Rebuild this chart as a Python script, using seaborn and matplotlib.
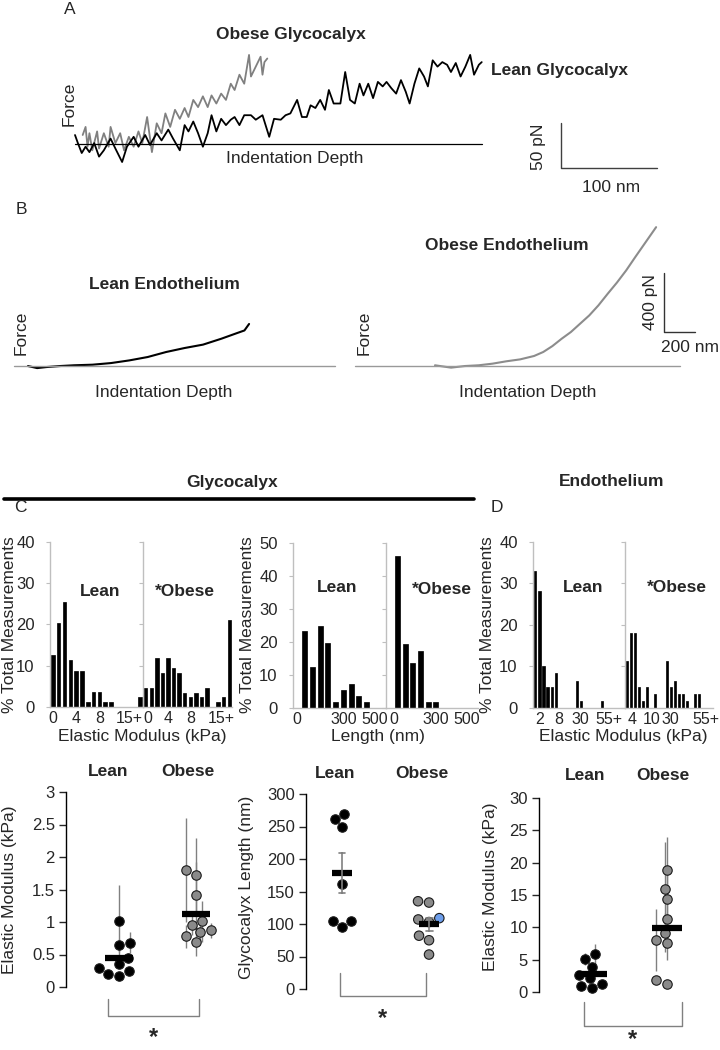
import numpy as np
import matplotlib
matplotlib.use('Agg')
import matplotlib.pyplot as plt
from matplotlib.lines import Line2D
import seaborn as sns

sns.set_style('white')
plt.rcParams['font.family'] = ['Liberation Sans', 'DejaVu Sans']
plt.rcParams['font.size'] = 12

# A: glycocalyx force curves (indentation nm, force pN)
glyco_lean_nm = [0, 3, 7, 11, 15, 20, 25, 30, 37, 42, 49, 54, 61, 66, 73, 78, 85, 90, 97, 102,
                 109, 114, 118, 123, 128, 133, 138, 142, 147, 152, 157, 162, 166, 171, 176, 183, 188, 195, 202, 207,
                 214, 219, 224, 231, 236, 241, 245, 250, 255, 260, 264, 269, 276, 281, 286, 291, 296, 300, 305, 310,
                 315, 320, 324, 329, 334, 339, 344, 348, 353, 358, 363, 367, 372, 377, 382, 387, 391, 396, 401, 406,
                 411, 415, 420, 423]
glyco_lean_pn = [10, 1, -10, -3, -9, 1, -14, -7, 6, -5, -20, -3, 8, -3, 10, -1, 12, 4, 16, 6,
                 -7, 21, 14, 25, 12, -3, 12, 32, 14, 28, 21, 27, 30, 21, 32, 32, 27, 32, 8, 28,
                 27, 32, 34, 49, 30, 30, 43, 40, 49, 38, 60, 45, 45, 80, 49, 45, 67, 54, 67, 51,
                 69, 64, 69, 62, 56, 71, 58, 45, 67, 84, 75, 64, 93, 86, 91, 88, 80, 90, 75, 86,
                 99, 77, 88, 91]
glyco_obese_nm = [8, 11, 13, 15, 18, 23, 25, 30, 35, 37, 42, 47, 51, 56, 61, 66, 70, 75, 80, 85,
                  90, 94, 99, 104, 109, 114, 118, 123, 128, 133, 138, 142, 147, 152, 157, 162, 166, 171, 176, 181,
                  183, 188, 193, 195, 197, 200]
glyco_obese_pn = [10, 19, -3, 12, -7, 14, -5, 12, -3, 19, 1, 12, -7, 8, -3, 14, 1, 30, -9, 23,
                  12, 34, 19, 38, 28, 40, 30, 49, 41, 53, 41, 54, 45, 56, 49, 67, 60, 77, 67, 99,
                  75, 86, 97, 77, 91, 95]

# B: endothelium force curves
endo_lean_nm = [0, 59, 119, 208, 297, 416, 535, 653, 772, 891, 1010, 1129, 1247, 1337, 1396, 1426]
endo_lean_pn = [0, -14, -7, 0, 5, 9, 20, 38, 61, 95, 122, 145, 185, 219, 241, 285]
endo_obese_nm = [0, 104, 193, 282, 371, 460, 549, 639, 698, 757, 817, 876, 936, 995, 1054, 1114,
                 1173, 1233, 1292, 1351, 1426]
endo_obese_pn = [5, -11, 0, 5, 16, 32, 45, 68, 95, 135, 185, 230, 287, 343, 411, 490,
                 565, 648, 739, 828, 941]

# C/D histograms (% total measurements per bin)
c_mod_lean = [12.7, 20.3, 25.4, 11.3, 8.8, 8.8, 1.2, 3.7, 3.7, 1.2, 1.2, 0, 0, 0, 0, 2.5]
c_mod_obese = [4.7, 4.7, 11.9, 8.2, 11.9, 9.4, 8.2, 3.5, 2.3, 3.5, 2.3, 4.7, 0, 1.2, 2.3, 21.1]
c_mod_ticks = ['0', '4', '8', '15+']
c_len_lean = [0, 23.2, 12.5, 25.0, 19.6, 1.8, 5.4, 7.2, 3.5, 1.8, 0, 0]
c_len_obese = [0, 46.2, 19.3, 13.5, 17.3, 1.8, 1.8, 0, 0, 0, 0, 0]
c_len_ticks = ['0', '300', '500']
d_mod_lean = [33, 28.2, 10, 5, 5, 8.4, 0, 0, 0, 0, 6.6, 1.6, 0, 0, 0, 0, 1.6, 0, 0, 0, 0, 0]
d_mod_obese = [11.4, 18, 18, 5, 1.6, 5, 0, 3.3, 0, 0, 11.4, 5, 6.6, 3.3, 3.3, 1.6, 0, 3.3, 3.3, 0, 0, 0]
d_lean_ticks = ['2', '8', '30', '55+']
d_obese_ticks = ['4', '10', '30', '55+']

# C/D per-animal values
groups = ['Lean', 'Obese']
c_mod_lean_pts = [1.02, 0.68, 0.64, 0.45, 0.35, 0.30, 0.25, 0.20, 0.17]
c_mod_lean_err = [0.55, 0.16, 0.10, 0.08, 0.06, 0.05, 0.05, 0.04, 0.03]
c_mod_obese_pts = [1.80, 1.73, 1.41, 1.01, 0.95, 0.87, 0.85, 0.78, 0.70]
c_mod_obese_err = [0.80, 0.57, 0.52, 0.32, 0.15, 0.12, 0.15, 0.18, 0.22]
c_len_lean_pts = [270, 262, 250, 161, 105, 105, 95]
c_len_obese_pts = [135, 133, 103, 107, 109, 75, 82, 53]
d_mod_lean_pts = [5.8, 5.1, 3.8, 2.6, 2.2, 1.2, 1.0, 0.6]
d_mod_lean_err = [1.7, 1.0, 0.8, 0.6, 0.5, 0.4, 0.3, 0.3]
d_mod_obese_pts = [18.8, 16.0, 14.4, 11.3, 9.2, 8.1, 7.6, 1.8, 1.3]
d_mod_obese_err = [5.1, 7.2, 4.1, 2.9, 3.0, 4.8, 2.6, 0.4, 0.4]

W, H = 720, 1050
fig = plt.figure(figsize=(W / 100, H / 100), dpi=100)
GREY = '#808080'


def px_axes(x0, y0, x1, y1):
    return fig.add_axes([x0 / W, 1 - y1 / H, (x1 - x0) / W, (y1 - y0) / H])


def ftext(x, y, s, **kw):
    kw.setdefault('ha', 'center')
    kw.setdefault('va', 'center')
    fig.text(x / W, 1 - y / H, s, **kw)


def fline(xs, ys, **kw):
    fig.add_artist(Line2D([x / W for x in xs], [1 - y / H for y in ys],
                          transform=fig.transFigure, **kw))


# ---------- A ----------
ax = px_axes(60, 0, 700, 200)
sns.lineplot(x=glyco_obese_nm, y=glyco_obese_pn, color=GREY, lw=1.3, estimator=None, sort=False, ax=ax)
sns.lineplot(x=glyco_lean_nm, y=glyco_lean_pn, color='black', lw=1.3, estimator=None, sort=False, ax=ax)
ax.plot([0, max(glyco_lean_nm)], [0, 0], color='black', lw=0.9)
ax.plot([505, 505, 505 + 100], [-26.7 + 50, -26.7, -26.7], color='#404040', lw=1)
ax.set_xlim(-15.6, 650)
ax.set_ylim(-62.2, 160)
ax.axis('off')

ftext(70, 10, 'A', fontsize=12.5)
ftext(291, 35, 'Obese Glycocalyx', fontweight='bold', fontsize=12.5)
ftext(491, 70, 'Lean Glycocalyx', fontweight='bold', fontsize=12.5, ha='left')
ftext(69, 104, 'Force', rotation=90, fontsize=12.5)
ftext(295, 159, 'Indentation Depth', fontsize=12.5)
ftext(538, 147, '50 pN', rotation=90, fontsize=12.5)
ftext(611, 188, '100 nm', fontsize=12.5)

# ---------- B ----------
axl = px_axes(0, 200, 345, 410)
sns.lineplot(x=endo_lean_nm, y=endo_lean_pn, color='black', lw=1.5, estimator=None, sort=False, ax=axl)
axl.plot([-90, 1980], [0, 0], color='#999999', lw=1)
axl.set_xlim(-180.6, 2044.7)
axl.set_ylim(-298, 1125)
axl.axis('off')

axr = px_axes(350, 200, 720, 410)
sns.lineplot(x=endo_obese_nm, y=endo_obese_pn, color='#8c8c8c', lw=1.5, estimator=None, sort=False, ax=axr)
axr.plot([-516, 1580], [0, 0], color='#999999', lw=1)
axr.plot([1477, 1477, 1477 + 200], [230 + 400, 230, 230], color='#333333', lw=1)
axr.set_xlim(-548, 1838)
axr.set_ylim(-298, 1125)
axr.axis('off')

ftext(21, 210, 'B', fontsize=12.5)
ftext(164, 285, 'Lean Endothelium', fontweight='bold', fontsize=12.5)
ftext(21, 333, 'Force', rotation=90, fontsize=12.5)
ftext(164, 393, 'Indentation Depth', fontsize=12.5)
ftext(507, 245, 'Obese Endothelium', fontweight='bold', fontsize=12.5)
ftext(364, 333, 'Force', rotation=90, fontsize=12.5)
ftext(528, 393, 'Indentation Depth', fontsize=12.5)
ftext(650, 302, '400 pN', rotation=90, fontsize=12.5)
ftext(690, 347, '200 nm', fontsize=12.5)

# ---------- C / D headers ----------
ftext(20, 508, 'C', fontsize=12.5)
ftext(497, 508, 'D', fontsize=12.5)
ftext(232, 482, 'Glycocalyx', fontweight='bold', fontsize=12.5)
ftext(612, 482, 'Endothelium', fontweight='bold', fontsize=12.5)
fline([4, 474], [499, 499], color='black', lw=2.6)


# ---------- histograms ----------
def hist_pair(x0, xm, x1, ytop, ybot, ymax, lean, obese, ticks_l, ticks_o, width):
    axes = (px_axes(x0, ytop, xm, ybot), px_axes(xm, ytop, x1, ybot))
    for i, (hax, vals, (pos, labs)) in enumerate(zip(axes, (lean, obese), (ticks_l, ticks_o))):
        sns.barplot(x=list(range(len(vals))), y=vals, color='black', saturation=1,
                    width=width, errorbar=None, edgecolor='black', linewidth=0.5, ax=hax)
        hax.set_xlim(-0.5, len(vals) - 0.5)
        hax.set_ylim(0, ymax)
        hax.set_xticks(pos, labs)
        hax.set_yticks(range(0, ymax + 1, 10))
        hax.set_xlabel('')
        hax.set_ylabel('')
        for side in ('top', 'right'):
            hax.spines[side].set_visible(False)
        for side in ('left', 'bottom'):
            hax.spines[side].set_color('#bfbfbf')
            hax.spines[side].set_linewidth(1)
        hax.tick_params(axis='x', length=0, labelsize=11.5, pad=3)
        hax.tick_params(axis='y', length=3, color='#bfbfbf', labelsize=12, pad=8,
                        labelleft=(i == 0), left=True)
    return axes


hist_pair(50, 143, 232, 541.7, 707, 40, c_mod_lean, c_mod_obese,
          ([0, 4, 8, 13.1], c_mod_ticks), ([0.4, 4, 8, 13.6], c_mod_ticks), 0.6)
hist_pair(293, 386, 478, 543, 708, 50, c_len_lean, c_len_obese,
          ([0, 6, 10], c_len_ticks), ([0.5, 6, 10], c_len_ticks), 0.65)
hist_pair(533, 625, 713, 541.7, 708, 40, d_mod_lean, d_mod_obese,
          ([1, 5.6, 10.9, 17.7], d_lean_ticks), ([1.4, 6.2, 10.9, 19.7], d_obese_ticks), 0.62)

for x, y, s in ((100, 592, 'Lean'), (185, 592, '*Obese'), (337, 588, 'Lean'), (442, 590, '*Obese'),
                (583, 588, 'Lean'), (677, 588, '*Obese')):
    ftext(x, y, s, fontweight='bold', fontsize=12.5)
for x in (10, 248, 488):
    ftext(x, 625, '% Total Measurements', rotation=90, fontsize=12.5)
ftext(142, 737, 'Elastic Modulus (kPa)', fontsize=12.5)
ftext(378, 737, 'Length (nm)', fontsize=12.5)
ftext(623, 737, 'Elastic Modulus (kPa)', fontsize=12.5)


# ---------- dot plots ----------
def dot_panel(x0, x1, ytop, ybot, xlim, ymax, yticks, lean, obese,
              lean_err=None, obese_err=None, sem=False, bar_pt=20, blue_idx=None):
    dax = px_axes(x0, ytop, x1, ybot)
    colls = []
    for grp, vals, fc in (('Lean', lean, 'black'), ('Obese', obese, '#8a8a8a')):
        n_before = len(dax.collections)
        sns.swarmplot(x=[grp] * len(vals), y=vals, order=groups, color=fc, size=6.8,
                      edgecolor='#1a1a1a', linewidth=0.8, clip_on=False, zorder=3, ax=dax)
        new = [c for c in dax.collections[n_before:] if len(c.get_offsets()) == len(vals)]
        colls.append(new[0])
        sns.pointplot(x=[grp] * len(vals), y=vals, order=groups, estimator='mean',
                      errorbar='se' if sem else None, color='black', marker='_',
                      markersize=bar_pt, markeredgewidth=4.5, linestyle='none', capsize=0.08,
                      err_kws={'color': GREY, 'linewidth': 1.2}, zorder=5, ax=dax)
    dax.set_xlim(*xlim)
    dax.set_ylim(0, ymax)
    dax.set_xticks([])
    dax.set_yticks(yticks, [f'{v:g}' for v in yticks])
    dax.set_xlabel('')
    dax.set_ylabel('')
    for side in ('top', 'right', 'bottom'):
        dax.spines[side].set_visible(False)
    dax.spines['left'].set_color('black')
    dax.spines['left'].set_linewidth(1)
    dax.tick_params(axis='y', length=5, width=1, labelsize=12, pad=3, left=True)
    if blue_idx is not None:
        fcs = [colls[1].get_facecolors()[0]] * len(obese)
        fcs[blue_idx] = '#6d9eeb'
        colls[1].set_facecolors(fcs)
    fig.canvas.draw()
    for coll, vals, err in zip(colls, (lean, obese), (lean_err, obese_err)):
        if err is None:
            continue
        xs = np.asarray(coll.get_offsets())[:, 0]
        v = np.array(vals)
        e = np.array(err)
        dax.vlines(xs, v - e, v + e, color=GREY, lw=1, zorder=2)
    return dax


dot_panel(66, 240, 792, 987, (-0.688, 1.571), 3, [0, 0.5, 1, 1.5, 2, 2.5, 3],
          c_mod_lean_pts, c_mod_obese_pts, c_mod_lean_err, c_mod_obese_err, bar_pt=20)
dot_panel(306, 470, 794, 989, (-0.414, 1.471), 300, [0, 50, 100, 150, 200, 250, 300],
          c_len_lean_pts, c_len_obese_pts, sem=True, bar_pt=15, blue_idx=4)
dot_panel(539, 716, 798, 992, (-0.707, 1.653), 30, [0, 5, 10, 15, 20, 25, 30],
          d_mod_lean_pts, d_mod_obese_pts, d_mod_lean_err, d_mod_obese_err, bar_pt=21.6)

for xl, xo, y in ((108, 188, 772), (335, 422, 773), (585, 663, 775)):
    ftext(xl, y, 'Lean', fontweight='bold', fontsize=12.5)
    ftext(xo, y, 'Obese', fontweight='bold', fontsize=12.5)
ftext(10, 890, 'Elastic Modulus (kPa)', rotation=90, fontsize=12.5)
ftext(247, 887, 'Glycocalyx Length (nm)', rotation=90, fontsize=12.5)
ftext(490, 887, 'Elastic Modulus (kPa)', rotation=90, fontsize=12.5)

# significance brackets
for xa, xb, y0, y1, ys in ((108, 199, 999, 1016, 1026), (340, 426, 973, 996, 1007), (584, 682, 1002, 1026, 1028)):
    fline([xa, xa, xb, xb], [y0, y1, y1, y0], color=GREY, lw=1)
    ftext((xa + xb) / 2, ys, '*', fontweight='bold', fontsize=17, va='top')

fig.savefig('out.png', dpi=100, facecolor='white')
